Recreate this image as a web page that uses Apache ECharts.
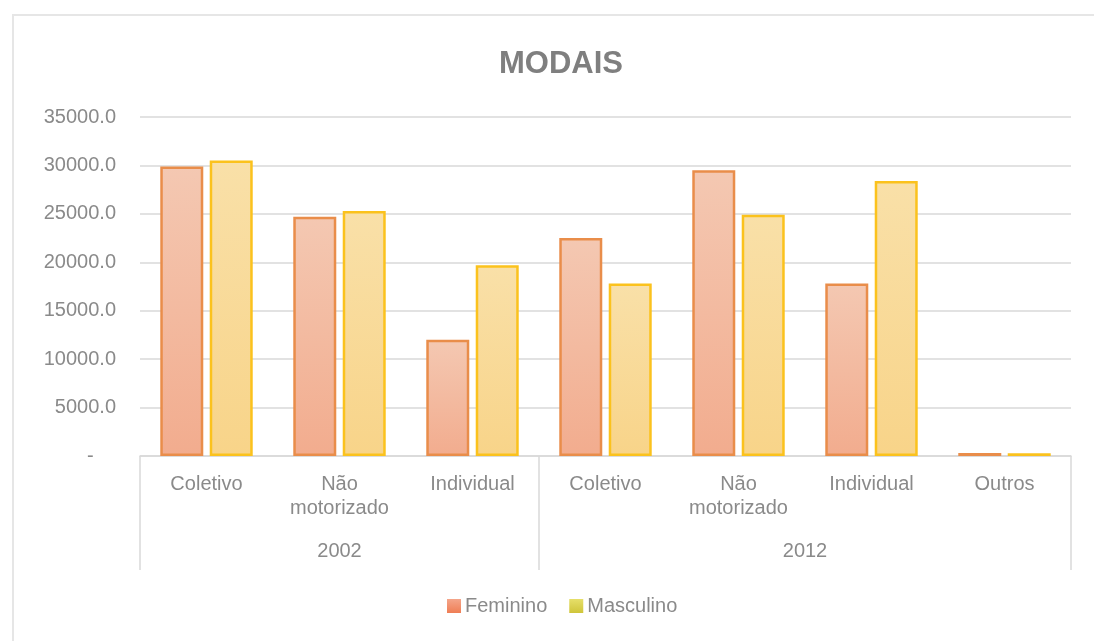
<!DOCTYPE html>
<html>
<head>
<meta charset="utf-8">
<script src="https://cdn.jsdelivr.net/npm/echarts@6/dist/echarts.min.js"></script>
<style>
  html, body { margin: 0; padding: 0; background: #fff; }
  .frame {
    position: absolute; left: 12px; top: 14px; width: 1200px; height: 700px;
    border-top: 2px solid #e6e6e6; border-left: 2px solid #e6e6e6;
  }
  #chart { position: absolute; left: 0; top: 0; width: 1094px; height: 641px; }
</style>
</head>
<body>
<div class="frame"></div>
<div id="chart"></div>
<script>
// categories (level 1) and year groups (level 2)
const categories = ['Coletivo', 'Não\nmotorizado', 'Individual', 'Coletivo', 'Não\nmotorizado', 'Individual', 'Outros']
// year axis runs on half-category points (0..14), boundaries at 0, 6 and 14
const yearLabels = ['', '', '', '2002', '', '', '', '', '', '', '2012', '', '', '', '']
const yearBoundaries = [0, 6, 14]

const feminino = [29900, 24700, 12000, 22500, 29500, 17800, 300]
const masculino = [30500, 25300, 19700, 17800, 24900, 28400, 280]

const yMin = 0
const yMax = 35000
const yStep = 5000

const textColor = '#8a8a8a'
const lineColor = '#d9d9d9'
const fontFamily = '"Liberation Sans", "DejaVu Sans", sans-serif'

const dom = document.getElementById('chart')
const chart = echarts.init(dom, null, { renderer: 'canvas' })

const grad = (top, bottom) => new echarts.graphic.LinearGradient(0, 0, 0, 1, [
  { offset: 0, color: top },
  { offset: 1, color: bottom }
])

chart.setOption({
  animation: false,
  textStyle: { fontFamily: fontFamily },
  title: {
    text: 'MODAIS',
    left: 494,
    top: 44,
    textStyle: { fontSize: 31, fontWeight: 'bold', color: '#7f7f7f', fontFamily: fontFamily }
  },
  legend: {
    top: 591,
    left: 442,
    itemWidth: 14,
    itemHeight: 14,
    itemGap: 22,
    icon: 'rect',
    textStyle: { fontSize: 20, color: textColor, padding: [0, 0, 0, -1] },
    data: [
      { name: 'Feminino', itemStyle: { color: grad('#f4a58a', '#ef7e55'), borderWidth: 0 } },
      { name: 'Masculino', itemStyle: { color: grad('#e6df6a', '#cfc53a'), borderWidth: 0 } }
    ]
  },
  grid: {
    left: 140,
    right: 23,
    top: 117,
    bottom: 185,
    containLabel: false
  },
  xAxis: [
    {
      type: 'category',
      data: categories,
      axisLine: { show: true, lineStyle: { color: lineColor, width: 1.5 } },
      axisTick: { show: false },
      axisLabel: {
        interval: 0,
        margin: 16,
        fontSize: 20,
        lineHeight: 24,
        color: textColor
      }
    },
    {
      type: 'category',
      position: 'bottom',
      data: yearLabels,
      boundaryGap: false,
      axisLine: { show: false },
      axisTick: {
        show: true,
        length: 114,
        interval: (i) => yearBoundaries.includes(i),
        lineStyle: { color: lineColor, width: 1.5 }
      },
      axisLabel: {
        interval: 0,
        margin: 85,
        fontSize: 20,
        color: textColor
      }
    }
  ],
  yAxis: {
    type: 'value',
    min: yMin,
    max: yMax,
    interval: yStep,
    axisLine: { show: false },
    axisTick: { show: false },
    splitLine: { lineStyle: { color: lineColor, width: 1.5 } },
    axisLabel: {
      margin: 24,
      fontSize: 20,
      color: textColor,
      formatter: (v) => v === 0 ? '-    ' : v.toFixed(1)
    }
  },
  series: [
    {
      name: 'Feminino',
      type: 'bar',
      xAxisIndex: 0,
      data: feminino,
      barWidth: 43,
      barGap: '15%',
      itemStyle: {
        color: grad('#f4c8b2', '#f2ac8e'),
        borderColor: '#e98d4a',
        borderWidth: 2.5
      }
    },
    {
      name: 'Masculino',
      type: 'bar',
      xAxisIndex: 0,
      data: masculino,
      barWidth: 43,
      barGap: '15%',
      itemStyle: {
        color: grad('#f9e0a8', '#f8d489'),
        borderColor: '#fbc21d',
        borderWidth: 2.5
      }
    }
  ]
})
</script>
</body>
</html>
